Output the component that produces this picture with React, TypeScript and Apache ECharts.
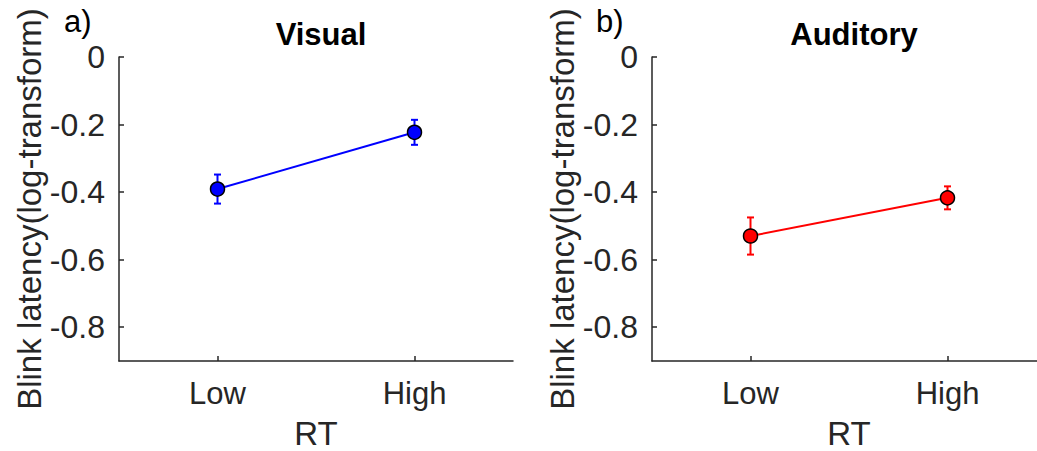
import React, { useEffect, useRef } from "react";
import * as echarts from "echarts";

const categories = ["Low", "High"];
const yTicks = [0, -0.2, -0.4, -0.6, -0.8];
const visualMean = [-0.391, -0.223];
const visualErr = [0.043, 0.037];
const auditoryMean = [-0.53, -0.417];
const auditoryErr = [0.055, 0.034];

const FONT = "'Liberation Sans', Arial, Helvetica, sans-serif";
const TXT = "#262626";

export default function App() {
  const ref = useRef<HTMLDivElement>(null);
  useEffect(() => {
    if (!ref.current) return;
    const chart = echarts.init(ref.current, null, { renderer: "svg" });

    const grids = [
      { left: 119, top: 57, width: 394, height: 304, outerBoundsMode: "none", containLabel: false },
      { left: 652, top: 57, width: 394, height: 304, outerBoundsMode: "none", containLabel: false },
    ];

    const xAxis = grids.map((_, i) => ({
      type: "category",
      gridIndex: i,
      position: "bottom",
      data: categories,
      boundaryGap: true,
      name: "RT",
      nameLocation: "middle",
      nameGap: 56,
      nameTextStyle: { fontFamily: FONT, fontSize: 33, color: TXT },
      axisLine: { show: true, onZero: false, lineStyle: { color: TXT, width: 1.5 } },
      axisTick: { show: true, inside: true, alignWithLabel: true, length: 5, lineStyle: { color: TXT, width: 1.5 } },
      axisLabel: { fontFamily: FONT, fontSize: 31, color: TXT, margin: 17 },
      splitLine: { show: false },
    }));

    const yAxis = grids.map((_, i) => ({
      type: "value",
      gridIndex: i,
      min: -0.9,
      max: 0,
      name: "Blink latency(log-transform)",
      nameLocation: "middle",
      nameGap: 72,
      nameTextStyle: { fontFamily: FONT, fontSize: 33, color: TXT },
      axisLine: { show: true, lineStyle: { color: TXT, width: 1.5 } },
      axisTick: { show: true, inside: true, length: 5, customValues: yTicks, lineStyle: { color: TXT, width: 1.5 } },
      axisLabel: {
        fontFamily: FONT,
        fontSize: 32,
        color: TXT,
        margin: 14,
        customValues: yTicks,
        formatter: (v: number) => (Math.abs(v) < 1e-9 ? "0" : v.toFixed(1)),
      },
      splitLine: { show: false },
    }));

    const makeErr = (means: number[], errs: number[], color: string, idx: number) => ({
      type: "custom",
      xAxisIndex: idx,
      yAxisIndex: idx,
      z: 1,
      data: means.map((m, i) => [i, m - errs[i], m + errs[i]]),
      renderItem: (params: any, api: any) => {
        const x = api.value(0);
        const lo = api.coord([x, api.value(1)]);
        const hi = api.coord([x, api.value(2)]);
        const cap = 3.5;
        const style = { stroke: color, lineWidth: 2 };
        return {
          type: "group",
          children: [
            { type: "line", shape: { x1: lo[0], y1: lo[1], x2: hi[0], y2: hi[1] }, style },
            { type: "line", shape: { x1: lo[0] - cap, y1: lo[1], x2: lo[0] + cap, y2: lo[1] }, style },
            { type: "line", shape: { x1: hi[0] - cap, y1: hi[1], x2: hi[0] + cap, y2: hi[1] }, style },
          ],
        };
      },
    });

    const makeLine = (means: number[], color: string, idx: number) => ({
      type: "line",
      xAxisIndex: idx,
      yAxisIndex: idx,
      z: 3,
      data: means,
      symbol: "circle",
      symbolSize: 14,
      lineStyle: { color, width: 2 },
      itemStyle: { color, borderColor: "#000", borderWidth: 1.5 },
    });

    chart.setOption({
      animation: false,
      backgroundColor: "#ffffff",
      grid: grids,
      xAxis,
      yAxis,
      title: [
        { text: "Visual", left: 316, top: 14, textAlign: "center", textStyle: { fontFamily: FONT, fontSize: 31, fontWeight: "bold", color: "#000" } },
        { text: "Auditory", left: 849, top: 14, textAlign: "center", textStyle: { fontFamily: FONT, fontSize: 31, fontWeight: "bold", color: "#000" } },
      ],
      graphic: [
        { type: "text", left: 64, top: 6, style: { text: "a)", fontFamily: FONT, fontSize: 31, fill: "#000" } },
        { type: "text", left: 596, top: 6, style: { text: "b)", fontFamily: FONT, fontSize: 31, fill: "#000" } },
      ],
      series: [
        makeErr(visualMean, visualErr, "#0000ff", 0),
        makeLine(visualMean, "#0000ff", 0),
        makeErr(auditoryMean, auditoryErr, "#ff0000", 1),
        makeLine(auditoryMean, "#ff0000", 1),
      ],
    });
    return () => chart.dispose();
  }, []);
  return (
    <div
      ref={ref}
      style={{ position: "fixed", left: 0, top: 0, width: 1037, height: 451, background: "#fff" }}
    />
  );
}
